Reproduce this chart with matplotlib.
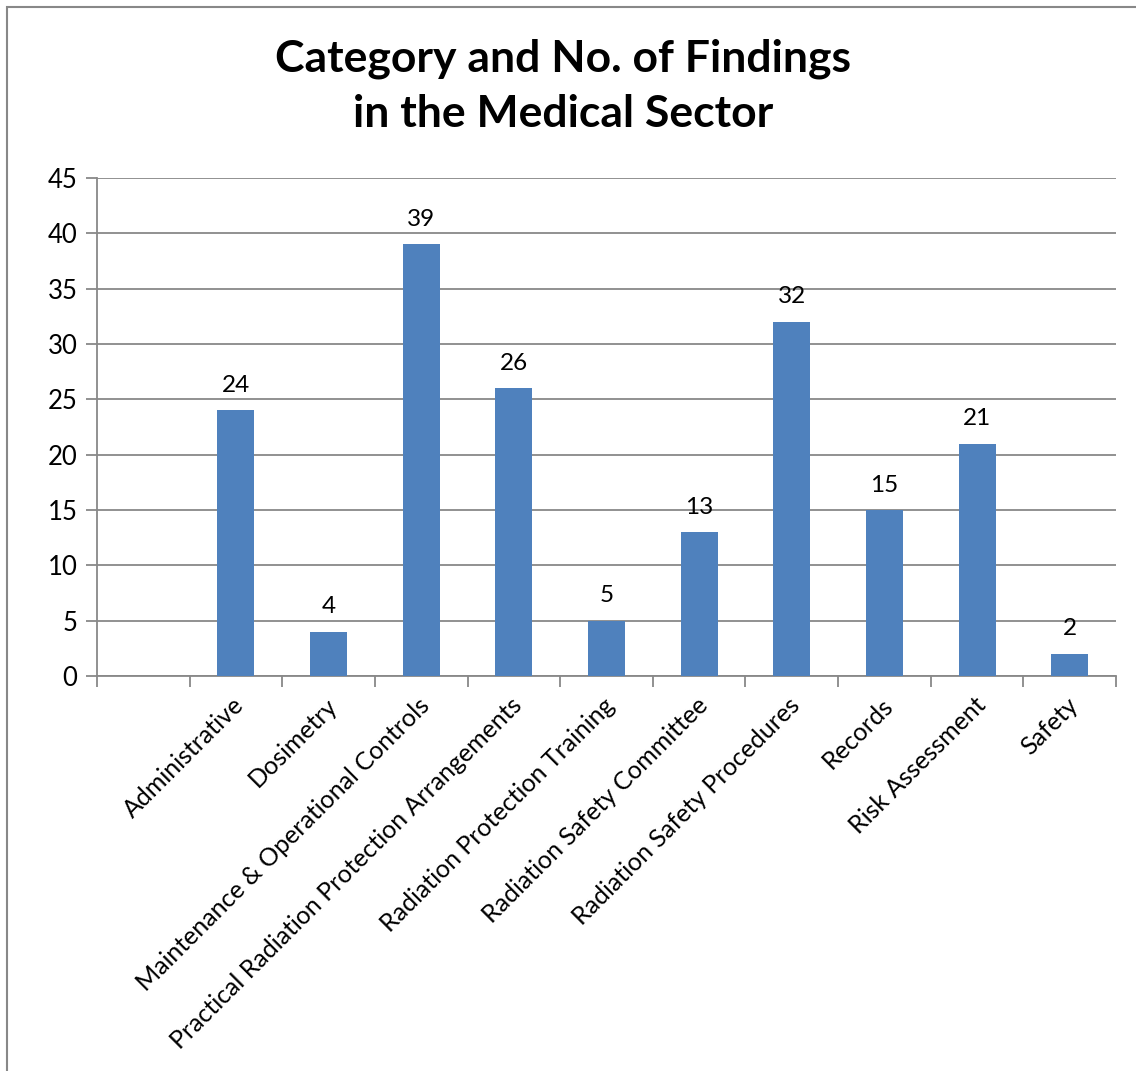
import matplotlib
matplotlib.use("Agg")
import matplotlib.pyplot as plt
from matplotlib.patches import Rectangle

categories = ["", "Administrative", "Dosimetry", "Maintenance & Operational Controls",
              "Practical Radiation Protection Arrangements", "Radiation Protection Training",
              "Radiation Safety Committee", "Radiation Safety Procedures", "Records",
              "Risk Assessment", "Safety"]
findings = [None, 24, 4, 39, 26, 5, 13, 32, 15, 21, 2]
yticks = [0, 5, 10, 15, 20, 25, 30, 35, 40, 45]

plt.rcParams['font.family'] = ['Lato', 'DejaVu Sans']

fig = plt.figure(figsize=(11.36, 10.71), dpi=100)
fig.patches.append(Rectangle((7 / 1136, -0.1), 1.2, 1 - 7 / 1071 + 0.1,
                             transform=fig.transFigure, fill=False,
                             edgecolor="#888888", linewidth=1.5))
ax = fig.add_axes([97 / 1136, 1 - 676 / 1071, (1116 - 97) / 1136, (676 - 178) / 1071])

xs = [i for i, v in enumerate(findings) if v is not None]
vals = [v for v in findings if v is not None]
ax.bar(xs, vals, width=0.4, color="#4F81BD", zorder=3)
for x, v in zip(xs, vals):
    ax.text(x, v + 1.3, str(v), ha="center", va="bottom", fontsize=17.5, zorder=4)

ax.set_xlim(-0.5, len(categories) - 0.5)
ax.set_ylim(0, 45)
ax.set_yticks(yticks)
ax.tick_params(axis="y", labelsize=18.5, length=8, width=1.3, color="#888888", pad=6)
ax.yaxis.grid(True, color="#888888", linewidth=1.3, zorder=0)

ax.set_xticks([i - 0.5 for i in range(len(categories) + 1)])
ax.set_xticklabels([])
ax.tick_params(axis="x", length=8, width=1.3, color="#888888")
for i, lab in enumerate(categories):
    ax.text(i + 0.05, -2.3, lab, rotation=45, rotation_mode="anchor",
            ha="right", va="center", fontsize=18)

for s in ["top", "right"]:
    ax.spines[s].set_visible(False)
for s in ["left", "bottom"]:
    ax.spines[s].set_color("#888888")
    ax.spines[s].set_linewidth(1.3)

fig.text(563 / 1136, 1 - 86 / 1071, "Category and No. of Findings\nin the Medical Sector",
         ha="center", va="center", fontsize=32, fontweight="bold", linespacing=1.45)

fig.savefig("out.png", dpi=100)
